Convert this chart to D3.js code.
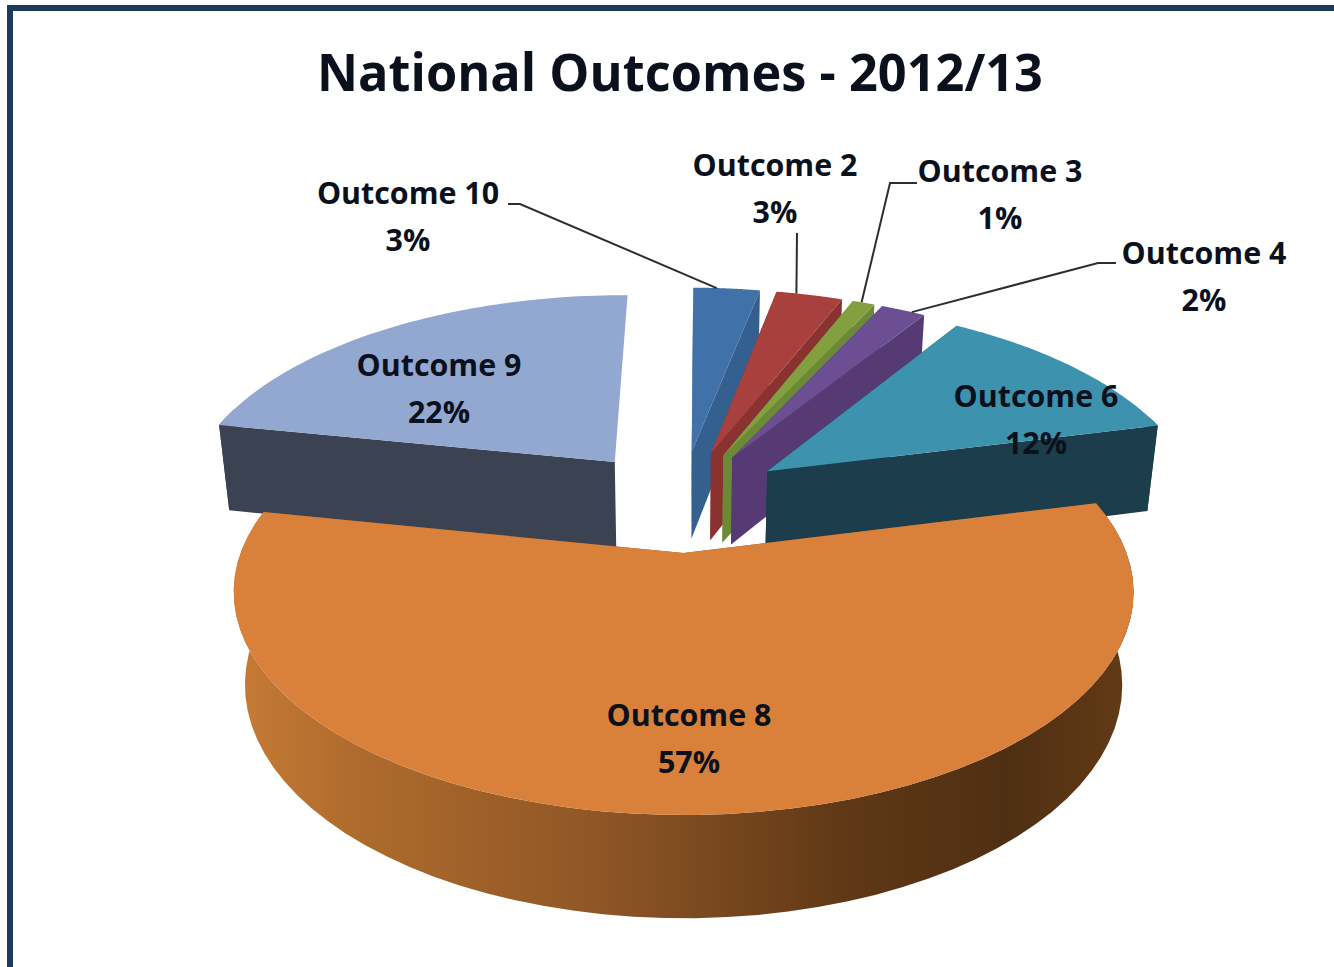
<!DOCTYPE html>
<html>
<head>
<meta charset="utf-8">
<title>National Outcomes - 2012/13</title>
<script src="https://cdn.jsdelivr.net/npm/d3@7/dist/d3.min.js"></script>
<style>
  html, body { margin: 0; padding: 0; background: #fff; overflow: hidden; }
  svg { display: block; }
  text { font-family: "Open Sans", "Noto Sans", sans-serif; font-weight: 700; fill: #0b111c; }
</style>
</head>
<body>
<svg id="chart" width="1334" height="967"></svg>
<script>
// Shares in clockwise order around the pie
const categories = ["Outcome 2", "Outcome 3", "Outcome 4", "Outcome 6", "Outcome 8", "Outcome 9", "Outcome 10"];
const shares = [3, 1, 2, 12, 57, 22, 3];
const titleText = "National Outcomes - 2012/13";

// Slice colours: top face and cut-wall face
const topColors = ["#a8403d", "#82a040", "#6c4e92", "#3d93ae", "#d9803a", "#93a8d0", "#4071a8"];
const wallColors = ["#8a3230", "#6c8a36", "#553a74", "#1b3d4c", "#8d5425", "#3b4252", "#33608f"];

// Label anchors: centre x and first-line baseline
const labelX = [775, 1000, 1204, 1036, 689, 439, 408];
const labelY = [176, 182, 264, 407, 726, 376, 204];

// Leader-line elbows and where along the slice rim each leader lands (0 to 1)
const leaderPaths = {
  "Outcome 2": { elbows: [[797, 233]], along: 0.3 },
  "Outcome 3": { elbows: [[917, 183], [890, 183]], along: 0.4 },
  "Outcome 4": { elbows: [[1116, 263], [1098, 263]], along: 0.7 },
  "Outcome 10": { elbows: [[508, 204], [520, 204]], along: 0.35 }
};

// Perspective camera for the tilted pie
const cam = { x0: 681, yh: -678, R: 443, K: 1231, Kb: 1356, p: 0.1755, q: 0.025 };
const explode = 0.256;     // radial slice offset, in pie radii
const pieCentreY = -0.256; // pie centre in the depth coordinate
const farRimX = 1.022;     // rim reach of the slices behind the largest one
const farRimY = 1.055;
const largest = shares.indexOf(d3.max(shares));

const rad = d => d * Math.PI / 180;
const xScale = d3.scaleLinear().domain([0, 1]).range([cam.x0, cam.x0 + cam.R]);

function project(X, Y, bottom) {
  const w = 1 - cam.p * Y + (bottom ? cam.q : 0);
  return [xScale(X / w), cam.yh + (bottom ? cam.Kb : cam.K) / w];
}

const pieGen = d3.pie().value(d => d).sort(null).startAngle(rad(11.3)).endAngle(rad(371.3));
const arcs = pieGen(shares);

const svg = d3.select("#chart");
const line = d3.line();
const polygon = pts => line(pts) + "Z";

// Horizontal shading along the round side of the largest slice
const defs = svg.append("defs");
const rimGrad = defs.append("linearGradient").attr("id", "rimShade")
  .attr("gradientUnits", "userSpaceOnUse")
  .attr("x1", 240).attr("x2", 1132).attr("y1", 0).attr("y2", 0);
[[0, "#c67a35"], [0.12, "#b06c2d"], [0.4, "#8f5626"], [0.68, "#5f3816"], [0.86, "#4f2f12"], [1, "#633b16"]]
  .forEach(([o, c]) => rimGrad.append("stop").attr("offset", o).attr("stop-color", c));

// Frame along the top and left edges
svg.append("rect").attr("x", 7).attr("y", 5).attr("width", 1327).attr("height", 6).attr("fill", "#1a3a5e");
svg.append("rect").attr("x", 7).attr("y", 5).attr("width", 6).attr("height", 962).attr("fill", "#1a3a5e");

// Paint order, far slices first: 10, 2, 3, 4, 6, 9, 8
const paintOrder = [6, 0, 1, 2, 3, 5, 4];

function sliceGeometry(a, i) {
  const mid = (a.startAngle + a.endAngle) / 2;
  const cx = explode * Math.sin(mid);
  const cy = pieCentreY - explode * Math.cos(mid);
  const rx = i === largest ? 1 : farRimX;
  const ry = i === largest ? 1 : farRimY;
  const steps = d3.range(0, 61).map(k => a.startAngle + (a.endAngle - a.startAngle) * k / 60);
  const rim = steps.map(t => [cx + rx * Math.sin(t), cy - ry * Math.cos(t)]);
  // the part of the round side that faces the viewer
  const facing = d3.range(0, 61).filter(k => Math.cos(steps[k]) < 0.3);
  return { cx, cy, rim, facing, leftSide: Math.sin(mid) < 0 };
}

const g = svg.append("g");
paintOrder.forEach(i => {
  const s = sliceGeometry(arcs[i], i);
  const apexTop = project(s.cx, s.cy, false);
  const apexBot = project(s.cx, s.cy, true);
  const rimTop = s.rim.map(([x, y]) => project(x, y, false));
  const rimBot = s.rim.map(([x, y]) => project(x, y, true));
  const slice = g.append("g").attr("class", "slice");
  const wall = wallColors[i];
  // cut faces; a slice left of centre shows only its leading face
  const faces = [[rimTop[0], rimBot[0]]];
  if (!s.leftSide) faces.push([rimTop[60], rimBot[60]]);
  faces.forEach(([t, b]) => {
    slice.append("path").attr("d", polygon([apexTop, t, b, apexBot])).attr("fill", wall);
  });
  // round side
  if (s.facing.length > 1) {
    const upper = s.facing.map(k => rimTop[k]);
    const lower = s.facing.map(k => rimBot[k]).reverse();
    slice.append("path")
      .attr("d", polygon(upper.concat(lower)))
      .attr("fill", i === largest ? "url(#rimShade)" : wall);
  }
  // top face
  slice.append("path")
    .attr("d", polygon([apexTop].concat(rimTop)))
    .attr("fill", topColors[i]);
});

// Leader lines run from the elbows to the rim of the slice
svg.append("g").selectAll("path")
  .data(categories.filter(c => leaderPaths[c]))
  .join("path")
  .attr("fill", "none").attr("stroke", "#2b2f33").attr("stroke-width", 2)
  .attr("d", c => {
    const i = categories.indexOf(c);
    const leader = leaderPaths[c];
    const s = sliceGeometry(arcs[i], i);
    const [x, y] = s.rim[Math.round(leader.along * 60)];
    return line(leader.elbows.concat([project(x, y, false)]));
  });

// Title
svg.append("text").attr("x", 680).attr("y", 91).attr("text-anchor", "middle")
  .attr("font-size", 52).attr("textLength", 726).attr("lengthAdjust", "spacingAndGlyphs")
  .text(titleText);

// Category and share labels
const labels = svg.append("g").selectAll("g").data(categories).join("g");
labels.append("text")
  .attr("x", (d, i) => labelX[i]).attr("y", (d, i) => labelY[i])
  .attr("text-anchor", "middle").attr("font-size", 30.4)
  .text(d => d);
labels.append("text")
  .attr("x", (d, i) => labelX[i]).attr("y", (d, i) => labelY[i] + 47)
  .attr("text-anchor", "middle").attr("font-size", 30.4)
  .text((d, i) => shares[i] + "%");
</script>
</body>
</html>
